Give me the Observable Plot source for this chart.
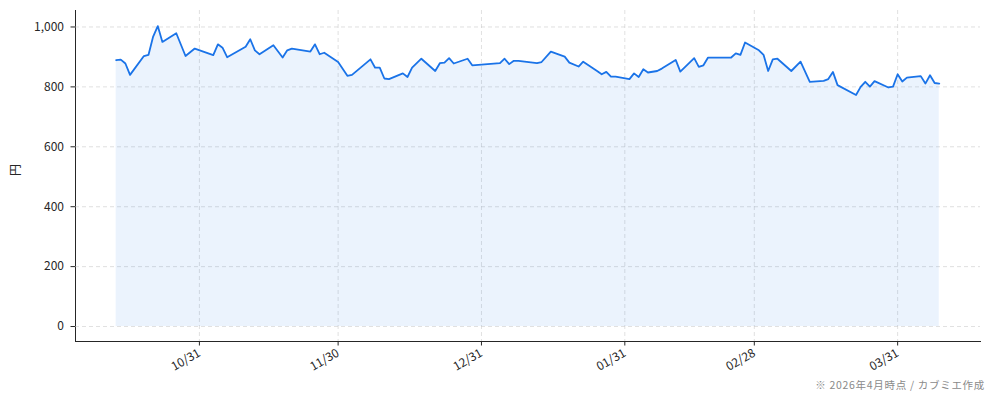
<!DOCTYPE html>
<html>
<head>
<meta charset="utf-8">
<script src="https://cdn.jsdelivr.net/npm/d3@7"></script>
<script src="https://cdn.jsdelivr.net/npm/@observablehq/plot@0.6"></script>
<style>
  html, body { margin: 0; padding: 0; background: #fff; }
  #wrap { width: 994px; height: 376px; }
  .cap { width: 994px; box-sizing: border-box; text-align: right; padding-right: 9px; padding-top: 2px;
         font-family: "Noto Sans CJK JP", sans-serif; font-size: 10.5px; letter-spacing: 0.7px; color: #8a8a8a; line-height: 14px; }
</style>
</head>
<body>
<div id="wrap"></div>
<div class="cap">※ 2026年4月時点 / カブミエ作成</div>
<script>
const dates = [
  "2025-10-13","2025-10-14","2025-10-15","2025-10-16","2025-10-19","2025-10-20","2025-10-21","2025-10-22","2025-10-23","2025-10-26","2025-10-28","2025-10-30",
  "2025-11-03","2025-11-04","2025-11-05","2025-11-06","2025-11-10","2025-11-11","2025-11-12","2025-11-13","2025-11-16","2025-11-18","2025-11-19","2025-11-20",
  "2025-11-24","2025-11-25","2025-11-26","2025-11-27","2025-11-30","2025-12-02","2025-12-03","2025-12-07","2025-12-08","2025-12-09","2025-12-10","2025-12-11",
  "2025-12-14","2025-12-15","2025-12-16","2025-12-18","2025-12-21","2025-12-22","2025-12-23","2025-12-24","2025-12-25","2025-12-28","2025-12-29",
  "2026-01-04","2026-01-05","2026-01-06","2026-01-07","2026-01-08","2026-01-12","2026-01-13","2026-01-15","2026-01-18","2026-01-19","2026-01-21","2026-01-22",
  "2026-01-25","2026-01-26","2026-01-27","2026-01-28","2026-01-29","2026-02-01","2026-02-02","2026-02-03","2026-02-04","2026-02-05","2026-02-07","2026-02-08",
  "2026-02-11","2026-02-12","2026-02-15","2026-02-16","2026-02-17","2026-02-18","2026-02-23","2026-02-24","2026-02-25","2026-02-26",
  "2026-03-01","2026-03-02","2026-03-03","2026-03-04","2026-03-05","2026-03-08","2026-03-10","2026-03-12","2026-03-15","2026-03-16","2026-03-17","2026-03-18",
  "2026-03-22","2026-03-23","2026-03-24","2026-03-25","2026-03-26","2026-03-29","2026-03-30","2026-03-31",
  "2026-04-01","2026-04-02","2026-04-05","2026-04-06","2026-04-07","2026-04-08","2026-04-09"
];
const prices = [
  889,891,878,840,903,907,968,1003,950,979,903,928,
  906,942,931,899,934,959,922,909,939,898,922,928,
  918,942,909,914,883,837,840,892,864,864,828,826,
  845,833,864,894,853,879,881,896,878,894,872,
  879,894,876,887,887,879,883,918,901,881,868,884,
  853,842,850,834,834,826,845,833,859,848,853,861,
  890,851,896,867,872,898,898,912,907,948,
  922,907,853,892,894,853,884,817,820,826,850,806,
  773,800,817,801,819,798,801,842,
  818,831,836,811,839,813,811
];
const xTickLabels = ["2025-10-31","2025-11-30","2025-12-31","2026-01-31","2026-02-28","2026-03-31"];
const yTicks = [0, 200, 400, 600, 800, 1000];
const yLabel = "円";

const data = dates.map((d, i) => ({ date: new Date(d), price: prices[i] }));
const xTicks = xTickLabels.map(d => new Date(d));
const gridStyle = { stroke: "#c8c8c8", strokeOpacity: 0.7, strokeDasharray: "4,3", strokeWidth: 0.8 };

const chart = Plot.plot({
  width: 994,
  height: 376,
  marginLeft: 75,
  marginRight: 14,
  marginTop: 10,
  marginBottom: 35,
  style: { fontFamily: "'Noto Sans CJK JP', sans-serif", fontSize: "12px", color: "#262626", background: "#fff" },
  x: {
    type: "utc",
    domain: [new Date("2025-10-04T05:00:00Z"), new Date("2026-04-17T22:00:00Z")],
    ticks: xTicks,
    tickFormat: d3.utcFormat("%m/%d"),
    tickRotate: -30,
    tickSize: 4.5,
    tickPadding: 6,
    line: true,
    label: null
  },
  y: {
    domain: [-50, 1055],
    ticks: yTicks,
    tickFormat: d3.format(","),
    tickSize: 4.5,
    tickPadding: 7,
    line: true,
    label: null
  },
  marks: [
    Plot.gridX(xTicks, gridStyle),
    Plot.gridY(yTicks, gridStyle),
    Plot.areaY(data, { x: "date", y: "price", fill: "#1a73e8", fillOpacity: 0.085 }),
    Plot.lineY(data, { x: "date", y: "price", stroke: "#1a73e8", strokeWidth: 1.8 }),
    Plot.text([yLabel], { frameAnchor: "left", dx: -59, rotate: -90, fontSize: 12, fill: "#262626" })
  ]
});
document.getElementById("wrap").appendChild(chart);
</script>
</body>
</html>
